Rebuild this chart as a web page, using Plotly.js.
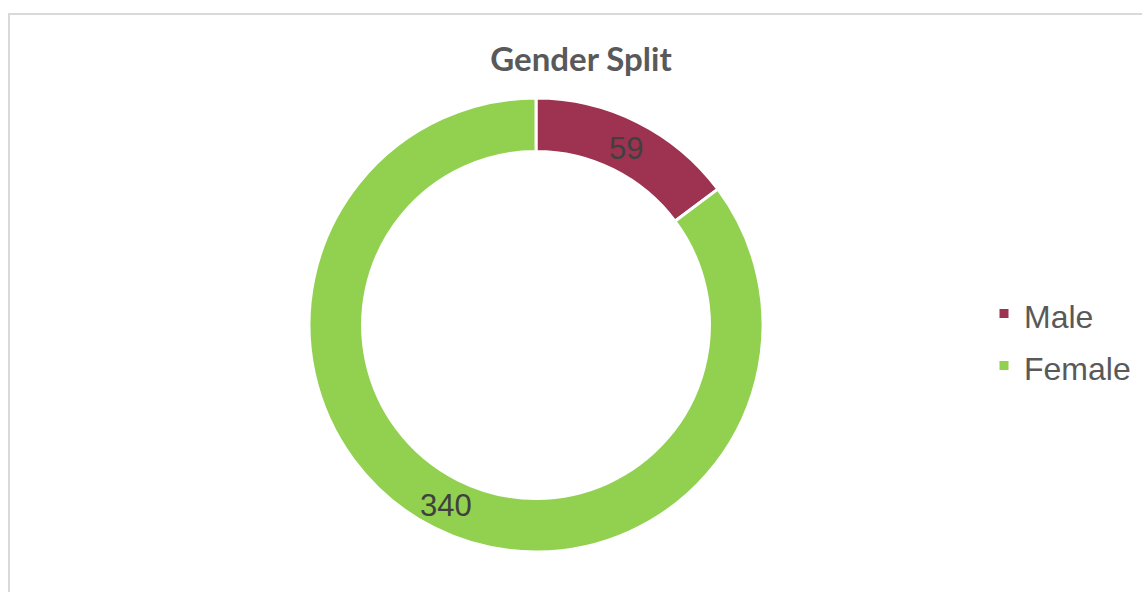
<!DOCTYPE html>
<html>
<head>
<meta charset="utf-8">
<script src="https://cdn.plot.ly/plotly-3.0.1.min.js"></script>
<style>html,body{margin:0;padding:0;overflow:hidden;background:#fff}#chart{width:1142px;height:592px}</style>
</head>
<body>
<div id="chart"></div>
<script>
const categories = ["Male", "Female"];
const values = [59, 340];
const colors = ["#9D3350", "#92D050"];
const chartTitle = "Gender Split";

const W = 1142, H = 592;
const cx = 536, cy = 325, R = 227, HOLE = 0.764;

// data labels placed at mid-angle of each slice, mid-radius of the ring
const total = values.reduce((a, b) => a + b, 0);
let cum = 0;
const rMid = R * (1 + HOLE) / 2;
const labelAnnotations = values.map((v) => {
  const mid = (cum + v / 2) / total * 2 * Math.PI;
  cum += v;
  return {
    xref: "paper", yref: "paper",
    x: (cx + rMid * Math.sin(mid)) / W,
    y: 1 - (cy - rMid * Math.cos(mid) + 2) / H,
    xanchor: "center", yanchor: "middle",
    text: String(v), showarrow: false,
    font: {family: "Liberation Sans, Arial, sans-serif", size: 31, color: "#404040"}
  };
});

const trace = {
  type: "pie",
  labels: categories.map(c => '<span style="font-size:32px">' + c + '</span>'),
  values: values,
  hole: HOLE,
  sort: false,
  direction: "clockwise",
  rotation: 0,
  marker: {colors: colors, line: {color: "#ffffff", width: 3}},
  textinfo: "none",
  hoverinfo: "value",
  domain: {x: [(cx - R) / W, (cx + R) / W], y: [(H - cy - R) / H, (H - cy + R) / H]}
};

const layout = {
  width: W, height: H,
  margin: {l: 0, r: 0, t: 0, b: 0},
  paper_bgcolor: "#ffffff",
  title: {
    text: "<b>" + chartTitle + "</b>",
    font: {family: "Lato, Carlito, sans-serif", size: 33, color: "#595959"},
    x: 581 / W, xanchor: "center", xref: "paper",
    y: 1 - 59 / H, yanchor: "middle", yref: "paper"
  },
  showlegend: true,
  legend: {
    x: 984 / W, xanchor: "left",
    y: 1 - 340 / H, yanchor: "middle",
    font: {family: "Liberation Sans, Arial, sans-serif", size: 37.7, color: "#595959"},
    bgcolor: "rgba(0,0,0,0)"
  },
  annotations: labelAnnotations,
  shapes: [{
    type: "rect", xref: "paper", yref: "paper",
    x0: 9 / W, x1: 1.2, y0: -0.2, y1: 1 - 14 / H,
    line: {color: "#d9d9d9", width: 2}
  }]
};

Plotly.newPlot("chart", [trace], layout, {displayModeBar: false, staticPlot: true});
</script>
</body>
</html>
